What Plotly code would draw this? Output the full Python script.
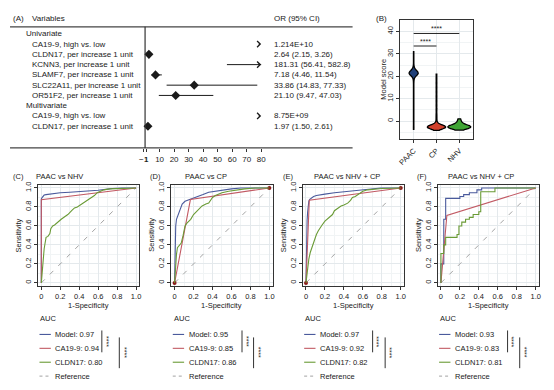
import plotly.graph_objects as go

# The page body adds an 8 px margin, so the figure is drawn 8 px smaller and shifted.
W, H = 554, 390
OX, OY = 8, 8
FW, FH = W - OX, H - OY
FONT = "Liberation Sans, Arial, Helvetica, sans-serif"
INK = "#1a1a1a"


def fx(p):
    return (p - OX) / FW


def fy(p):
    return 1 - (p - OY) / FH


# ---------------- Panel A: forest plot data ----------------
ROW_LABELS = ["Univariate", "CA19-9, high vs. low", "CLDN17, per increase 1 unit",
              "KCNN3, per increase 1 unit", "SLAMF7, per increase 1 unit",
              "SLC22A11, per increase 1 unit", "OR51F2, per increase 1 unit",
              "Multivariate", "CA19-9, high vs. low", "CLDN17, per increase 1 unit"]
ROW_HEADER = [True, False, False, False, False, False, False, True, False, False]
OR = [None, 1.214e10, 2.64, 181.31, 7.18, 33.86, 21.10, None, 8.75e9, 1.97]
LO = [None, None, 2.15, 56.41, 4.46, 14.83, 9.47, None, None, 1.50]
HI = [None, None, 3.26, 582.8, 11.54, 77.33, 47.03, None, None, 2.61]
OR_TEXT = ["", "1.214E+10", "2.64 (2.15, 3.26)", "181.31 (56.41, 582.8)",
           "7.18 (4.46, 11.54)", "33.86 (14.83, 77.33)", "21.10 (9.47, 47.03)",
           "", "8.75E+09", "1.97 (1.50, 2.61)"]
A_TICKS = [-1, 1, 10, 20, 30, 40, 50, 60, 70, 80]
A_TICK_TEXT = ["\u22121", "1", "10", "20", "30", "40", "50", "60", "70", "80"]
A_XMAX = 80
A_REF = 0

# ---------------- Panel B: violin data ----------------
B_GROUPS = ["PAAC", "CP", "NHV"]
B_PAAC = [31.0, 29.5, 28.0, 26.5, 25.0, 24.2, 23.6, 23.2, 23.0, 22.9, 22.8, 22.6,
          22.5, 22.4, 22.3, 22.2, 22.1, 22.0, 22.0, 21.9, 21.9, 21.8, 21.8, 21.7,
          21.7, 21.6, 21.6, 21.5, 21.5, 21.5, 21.4, 21.4, 21.3, 21.3, 21.2, 21.2,
          21.1, 21.1, 21.0, 21.0, 20.9, 20.9, 20.8, 20.8, 20.7, 20.6, 20.5, 20.4,
          20.3, 20.2, 20.0, 19.8, 19.5, 19.0, 18.2, 17.0, 15.5, 14.0, 12.5, 11.0,
          9.5, 8.0, 6.5, 5.0, 3.5, 2.0, 0.5, -1.0, -2.5, -3.7]
B_CP = [21.0, 19.0, 17.0, 15.0, 13.0, 11.0, 9.0, 7.0, 5.0, 3.0, 1.5, 0.0, -1.0,
        -1.5, -1.8, -2.0, -2.1, -2.2, -2.2, -2.3, -2.3, -2.4, -2.4, -2.4, -2.5,
        -2.5, -2.5, -2.5, -2.6, -2.6, -2.6, -2.6, -2.7, -2.7, -2.7, -2.8, -2.8,
        -2.8, -2.9, -2.9, -3.0, -3.0, -3.1, -3.2, -3.3, -3.5, -3.7, -4.1]
B_NHV = [1.0, 0.3, -0.5, -1.0, -1.4, -1.7, -1.9, -2.1, -2.2, -2.3, -2.4, -2.5,
         -2.5, -2.6, -2.6, -2.7, -2.7, -2.8, -2.8, -2.9, -3.0, -3.1, -3.3, -3.6, -4.0]
B_VALUES = [B_PAAC, B_CP, B_NHV]
B_SIG = [("PAAC", "CP", 33.5, "****"), ("PAAC", "NHV", 39.1, "****")]
B_YTICKS = [0, 10, 20, 30, 40]

# ---------------- Panels C-F: ROC data ----------------
ROC_TAGS = ["(C)", "(D)", "(E)", "(F)"]
ROC_TITLES = ["PAAC vs NHV", "PAAC vs CP", "PAAC vs NHV + CP", "PAAC vs NHV + CP"]
SERIES = ["Model", "CA19-9", "CLDN17"]
AUC = [[0.97, 0.94, 0.80], [0.95, 0.85, 0.86], [0.97, 0.92, 0.82], [0.93, 0.83, 0.81]]
REF_DIAG = [0, 1]
ROC_TICKS = [0, 0.2, 0.4, 0.6, 0.8, 1.0]
ROC_TICK_TEXT = ["0", "0.2", "0.4", "0.6", "0.8", "1.0"]

MODEL_FPR = [
    [0, 0, 0.01, 0.02, 0.03, 0.05, 0.08, 0.12, 0.2, 0.3, 0.4, 0.5, 0.6, 0.68, 0.75, 0.85, 1.0],
    [0, 0.003, 0.007, 0.012, 0.02, 0.03, 0.045, 0.06, 0.08, 0.11, 0.14, 0.18, 0.22, 0.25,
     0.3, 0.36, 0.42, 0.5, 0.6, 0.7, 0.8, 1.0],
    [0, 0.003, 0.007, 0.012, 0.017, 0.024, 0.03, 0.04, 0.06, 0.08, 0.11, 0.15, 0.2, 0.3,
     0.4, 0.5, 0.58, 0.7, 0.79, 1.0],
    [0, 0, 0.03, 0.03, 0.05, 0.05, 0.2, 0.2, 0.24, 0.24, 0.3, 0.3, 0.38, 0.38, 0.43, 0.43, 1.0],
]
MODEL_TPR = [
    [0, 0.885, 0.9, 0.915, 0.925, 0.93, 0.935, 0.94, 0.95, 0.955, 0.96, 0.965, 0.975, 0.985,
     0.995, 1.0, 1.0],
    [0, 0.3, 0.53, 0.6, 0.67, 0.7, 0.72, 0.77, 0.83, 0.86, 0.87, 0.885, 0.9, 0.91, 0.93,
     0.955, 0.965, 0.98, 0.99, 1.0, 1.0, 1.0],
    [0, 0.3, 0.56, 0.66, 0.74, 0.84, 0.86, 0.88, 0.9, 0.91, 0.92, 0.93, 0.935, 0.95, 0.96,
     0.97, 0.98, 0.99, 1.0, 1.0],
    [0, 0.2, 0.2, 0.67, 0.67, 0.89, 0.89, 0.91, 0.91, 0.93, 0.93, 0.95, 0.95, 0.98, 0.98,
     1.0, 1.0],
]
CA_FPR = [[0, 0, 1.0], [0, 0.167, 1.0], [0, 0.035, 1.0], [0, 0.0625, 1.0]]
CA_TPR = [[0, 0.875, 1.0], [0, 0.878, 1.0], [0, 0.87, 1.0], [0, 0.71, 1.0]]
CA_END_DOTS = [False, True, True, False]
CLDN_FPR = [
    [0, 0.005, 0.01, 0.02, 0.03, 0.04, 0.05, 0.07, 0.09, 0.1, 0.12, 0.14, 0.16, 0.18, 0.21,
     0.25, 0.28, 0.32, 0.35, 0.38, 0.41, 0.44, 0.47, 0.5, 0.53, 0.56, 0.59, 0.62, 0.66,
     0.72, 0.8, 0.88, 1.0],
    [0, 0.005, 0.01, 0.02, 0.03, 0.05, 0.07, 0.09, 0.1, 0.11, 0.13, 0.15, 0.17, 0.2, 0.22,
     0.24, 0.27, 0.29, 0.33, 0.36, 0.38, 0.4, 0.43, 0.46, 0.5, 0.57, 0.65, 0.74, 0.85, 1.0],
    [0, 0.008, 0.017, 0.03, 0.045, 0.06, 0.075, 0.087, 0.1, 0.11, 0.13, 0.146, 0.17, 0.2,
     0.22, 0.25, 0.28, 0.3, 0.33, 0.37, 0.4, 0.44, 0.47, 0.49, 0.52, 0.55, 0.58, 0.6, 0.65,
     0.72, 0.8, 1.0],
    [0, 0, 0.03, 0.03, 0.05, 0.05, 0.17, 0.17, 0.19, 0.19, 0.22, 0.22, 0.26, 0.26, 0.3,
     0.3, 0.34, 0.34, 0.4, 0.4, 0.42, 0.42, 0.57, 0.57, 1.0],
]
CLDN_TPR = [
    [0, 0.08, 0.16, 0.28, 0.36, 0.42, 0.48, 0.49, 0.52, 0.57, 0.6, 0.61, 0.63, 0.64, 0.67,
     0.7, 0.72, 0.76, 0.79, 0.8, 0.82, 0.84, 0.86, 0.88, 0.9, 0.92, 0.95, 0.96, 0.98,
     0.99, 0.995, 1.0, 1.0],
    [0, 0.12, 0.22, 0.3, 0.37, 0.4, 0.42, 0.5, 0.55, 0.6, 0.63, 0.65, 0.67, 0.72, 0.74,
     0.77, 0.79, 0.81, 0.83, 0.84, 0.87, 0.9, 0.92, 0.93, 0.95, 0.965, 0.98, 0.99, 1.0, 1.0],
    [0, 0.08, 0.15, 0.25, 0.32, 0.37, 0.42, 0.46, 0.49, 0.51, 0.55, 0.58, 0.61, 0.65,
     0.67, 0.7, 0.72, 0.76, 0.78, 0.81, 0.82, 0.84, 0.87, 0.9, 0.91, 0.93, 0.95, 0.965,
     0.98, 0.99, 0.995, 1.0],
    [0, 0.31, 0.31, 0.4, 0.4, 0.48, 0.48, 0.51, 0.51, 0.6, 0.6, 0.64, 0.64, 0.67, 0.67,
     0.69, 0.69, 0.72, 0.72, 0.75, 0.75, 0.96, 0.96, 1.0, 1.0],
]

# ---------------- styles ----------------
C_MODEL = "#4a5a9c"
C_CA = "#c25a64"
C_CLDN = "#6a9b36"
C_REF = "#a3a3a3"
B_COLORS = ["#1f3f78", "#d2402c", "#3fa535"]
B_WIDTHS = [0.4, 0.8, 1.0]
GRID = "#e4e9ec"
GRID_MINOR = "#f1f4f5"
FRAME = "#333333"

fig = go.Figure()
ann = []
shapes = []


def text(x, y, s, size=8, xanchor="left", yanchor="middle", angle=0, color=INK,
         xref="paper", yref="paper"):
    ann.append(dict(x=x, y=y, xref=xref, yref=yref, text=s, showarrow=False,
                    xanchor=xanchor, yanchor=yanchor, textangle=angle,
                    font=dict(family=FONT, size=size, color=color), borderpad=0))


def line(x0, y0, x1, y1, color=FRAME, width=1, dash="solid", xref="paper", yref="paper"):
    shapes.append(dict(type="line", x0=x0, y0=y0, x1=x1, y1=y1, xref=xref, yref=yref,
                       line=dict(color=color, width=width, dash=dash)))


# ================= Panel A =================
rows = list(range(len(ROW_LABELS)))
text(fx(8), fy(16), "(A)")
text(fx(27), fy(16), "Variables")
text(fx(272), fy(16), "OR (95% CI)")
line(fx(6), fy(24), fx(353), fy(24), color="#444", width=1.2)
line(fx(6), fy(146), fx(353), fy(146), color="#444", width=1.2)
for i, lab in enumerate(ROW_LABELS):
    text(fx(21.5 if ROW_HEADER[i] else 27.5), i, lab, yref="y")
    if OR_TEXT[i]:
        text(fx(272), i, OR_TEXT[i], yref="y")

# reference line
line(A_REF, 0, A_REF, 1, color="#333", width=1.2, xref="x", yref="y domain")

# CI lines (clipped at axis max)
cx, cy = [], []
for i in rows:
    if LO[i] is not None and HI[i] is not None:
        cx += [LO[i], min(HI[i], A_XMAX), None]
        cy += [i, i, None]
fig.add_trace(go.Scatter(x=cx, y=cy, mode="lines", line=dict(color=INK, width=1),
                         xaxis="x", yaxis="y", hoverinfo="skip", showlegend=False))
px_, py_ = [], []
for i in rows:
    if OR[i] is not None and OR[i] <= A_XMAX:
        px_.append(OR[i])
        py_.append(i)
fig.add_trace(go.Scatter(x=px_, y=py_, mode="markers",
                         marker=dict(symbol="diamond", size=7, color=INK),
                         xaxis="x", yaxis="y", showlegend=False))
# open arrow heads for values beyond the axis
for i in rows:
    if OR[i] is None:
        continue
    clipped = OR[i] > A_XMAX or (HI[i] is not None and HI[i] > A_XMAX)
    if clipped:
        ann.append(dict(x=A_XMAX, y=i, ax=A_XMAX - 3, ay=i, xref="x", yref="y",
                        axref="x", ayref="y", text="", showarrow=True, arrowhead=4,
                        arrowsize=3, arrowwidth=0.4, arrowcolor=INK))

# ================= Panel B =================
text(fx(376), fy(16), "(B)")
for g, vals, col, wd in zip(B_GROUPS, B_VALUES, B_COLORS, B_WIDTHS):
    fig.add_trace(go.Violin(x=[g] * len(vals), y=vals, xaxis="x2", yaxis="y2",
                            fillcolor=col, line=dict(color="black", width=1.3),
                            width=wd, spanmode="hard", bandwidth=0.8,
                            points=False, box=dict(visible=False),
                            opacity=1, showlegend=False, hoverinfo="skip"))
for a, b, yv, lab in B_SIG:
    fig.add_trace(go.Scatter(x=[a, b], y=[yv, yv], mode="lines",
                             line=dict(color="#222", width=1), xaxis="x2", yaxis="y2",
                             showlegend=False, hoverinfo="skip"))
    mid = (B_GROUPS.index(a) + B_GROUPS.index(b)) / 2
    ann.append(dict(x=mid, y=yv, xref="x2", yref="y2", text=lab, showarrow=False,
                    yanchor="bottom", yshift=-1,
                    font=dict(family=FONT, size=7, color=INK)))
text(fx(384), fy(77), "Model score", size=7.5, xanchor="center", angle=-90)

# ================= Panels C-F =================
DATA0 = [37.7, 172.7, 305.8, 442.5]
UNIT = 96.0
TAG_X = [8, 147, 282, 417]
TITLE_X = [56, 205, 347, 483]
B1_X = [99, 241, 373.3, 510]
B2_X = [116.7, 252.7, 386, 522.3]
LEG_Y = [334, 348, 362, 376]

for k in range(4):
    xa = f"x{k + 3}"
    ya = f"y{k + 3}"
    fig.add_trace(go.Scatter(x=REF_DIAG, y=REF_DIAG, mode="lines",
                             line=dict(color=C_REF, width=1, dash="5px,7px"),
                             xaxis=xa, yaxis=ya, showlegend=False, hoverinfo="skip"))
    fig.add_trace(go.Scatter(x=MODEL_FPR[k], y=MODEL_TPR[k], mode="lines",
                             line=dict(color=C_MODEL, width=1.1),
                             xaxis=xa, yaxis=ya, showlegend=False))
    fig.add_trace(go.Scatter(x=CA_FPR[k], y=CA_TPR[k], mode="lines",
                             line=dict(color=C_CA, width=1.1),
                             xaxis=xa, yaxis=ya, showlegend=False))
    if CA_END_DOTS[k]:
        fig.add_trace(go.Scatter(x=[CA_FPR[k][0], CA_FPR[k][-1]],
                                 y=[CA_TPR[k][0], CA_TPR[k][-1]], mode="markers",
                                 marker=dict(color="#8b1a1a", size=4),
                                 xaxis=xa, yaxis=ya, showlegend=False))
    fig.add_trace(go.Scatter(x=CLDN_FPR[k], y=CLDN_TPR[k], mode="lines",
                             line=dict(color=C_CLDN, width=1.1),
                             xaxis=xa, yaxis=ya, showlegend=False))

    bl = DATA0[k] - 0.035 * UNIT
    br = DATA0[k] + 1.035 * UNIT
    fig.update_layout(**{
        f"xaxis{k + 3}": dict(domain=[fx(bl), fx(br)], range=[-0.035, 1.035], anchor=ya,
                              tickvals=ROC_TICKS, ticktext=ROC_TICK_TEXT, tickangle=0,
                              ticks="outside", ticklen=3, tickcolor=FRAME,
                              showline=True, mirror=True, linecolor=FRAME, linewidth=1,
                              showgrid=True, gridcolor=GRID, zeroline=False,
                              minor=dict(dtick=0.1, tick0=0, showgrid=True, gridcolor=GRID_MINOR),
                              tickfont=dict(family=FONT, size=7.5, color=INK)),
        f"yaxis{k + 3}": dict(domain=[fy(285.4), fy(183)], range=[-0.035, 1.035], anchor=xa,
                              tickvals=ROC_TICKS, ticktext=ROC_TICK_TEXT, tickangle=-90,
                              ticks="outside", ticklen=3, tickcolor=FRAME,
                              showline=True, mirror=True, linecolor=FRAME, linewidth=1,
                              showgrid=True, gridcolor=GRID, zeroline=False,
                              minor=dict(dtick=0.1, tick0=0, showgrid=True, gridcolor=GRID_MINOR),
                              tickfont=dict(family=FONT, size=7.5, color=INK)),
    })
    text(fx(TAG_X[k]), fy(175), ROC_TAGS[k], size=7.5)
    text(fx(TITLE_X[k]), fy(175), ROC_TITLES[k], size=7.5, xanchor="center")
    text(fx((bl + br) / 2), fy(305), "1-Specificity", size=7.5, xanchor="center")
    text(fx(bl - 20), fy(234), "Sensitivity", size=7.5, xanchor="center", angle=-90)

    lx = bl + 1.5
    text(fx(lx), fy(318), "AUC", size=7.5)
    cols = [C_MODEL, C_CA, C_CLDN]
    for j in range(3):
        line(fx(lx), fy(LEG_Y[j]), fx(lx + 11.5), fy(LEG_Y[j]), color=cols[j], width=1.1)
        text(fx(lx + 15), fy(LEG_Y[j]), f"{SERIES[j]}: {AUC[k][j]:.2f}", size=7.5)
    line(fx(lx), fy(LEG_Y[3]), fx(lx + 11.5), fy(LEG_Y[3]), color=C_REF, width=1, dash="3px,3px")
    text(fx(lx + 15), fy(LEG_Y[3]), "Reference", size=7.5)

    line(fx(B1_X[k]), fy(330), fx(B1_X[k]), fy(352), color="#333", width=1)
    text(fx(B1_X[k] + 4.5), fy(341), "****", size=7, xanchor="center", angle=90)
    line(fx(B2_X[k]), fy(337), fx(B2_X[k]), fy(368), color="#333", width=1)
    text(fx(B2_X[k] + 5), fy(352), "****", size=7, xanchor="center", angle=90)

fig.update_layout(
    width=FW, height=FH, margin=dict(l=0, r=0, t=0, b=0),
    paper_bgcolor="white", plot_bgcolor="white", showlegend=False,
    violinmode="overlay", violingap=0,
    font=dict(family=FONT, size=8, color=INK),
    xaxis=dict(domain=[fx(141), fx(262)], range=[-1.224, 81.09], anchor="y",
               tickvals=A_TICKS, ticktext=A_TICK_TEXT, tickangle=0,
               ticks="outside", ticklen=3, tickcolor="#333",
               showline=False, showgrid=False, zeroline=False,
               tickfont=dict(family=FONT, size=8, color=INK)),
    yaxis=dict(domain=[fy(146), fy(24)], range=[11.11, -0.676], visible=False,
               anchor="x"),
    xaxis2=dict(domain=[fx(401), fx(475)], anchor="y2", type="category",
                categoryorder="array", categoryarray=B_GROUPS, range=[-0.6, 2.6],
                tickangle=-45, ticks="outside", ticklen=3, tickcolor=FRAME,
                showline=True, mirror=True, linecolor=FRAME, linewidth=1,
                showgrid=True, gridcolor=GRID, zeroline=False,
                tickfont=dict(family=FONT, size=7.5, color=INK)),
    yaxis2=dict(domain=[fy(137.5), fy(17.3)], anchor="x2", range=[-8.2, 45.0],
                tickvals=B_YTICKS, tickangle=-90, ticks="outside", ticklen=3,
                tickcolor=FRAME, showline=True, mirror=True, linecolor=FRAME,
                linewidth=1, showgrid=True, gridcolor=GRID, zeroline=False,
                minor=dict(tickvals=[-5, 5, 15, 25, 35], showgrid=True,
                           gridcolor=GRID_MINOR),
                tickfont=dict(family=FONT, size=7.5, color=INK)),
    annotations=ann, shapes=shapes,
)

fig.write_html("out.html")
